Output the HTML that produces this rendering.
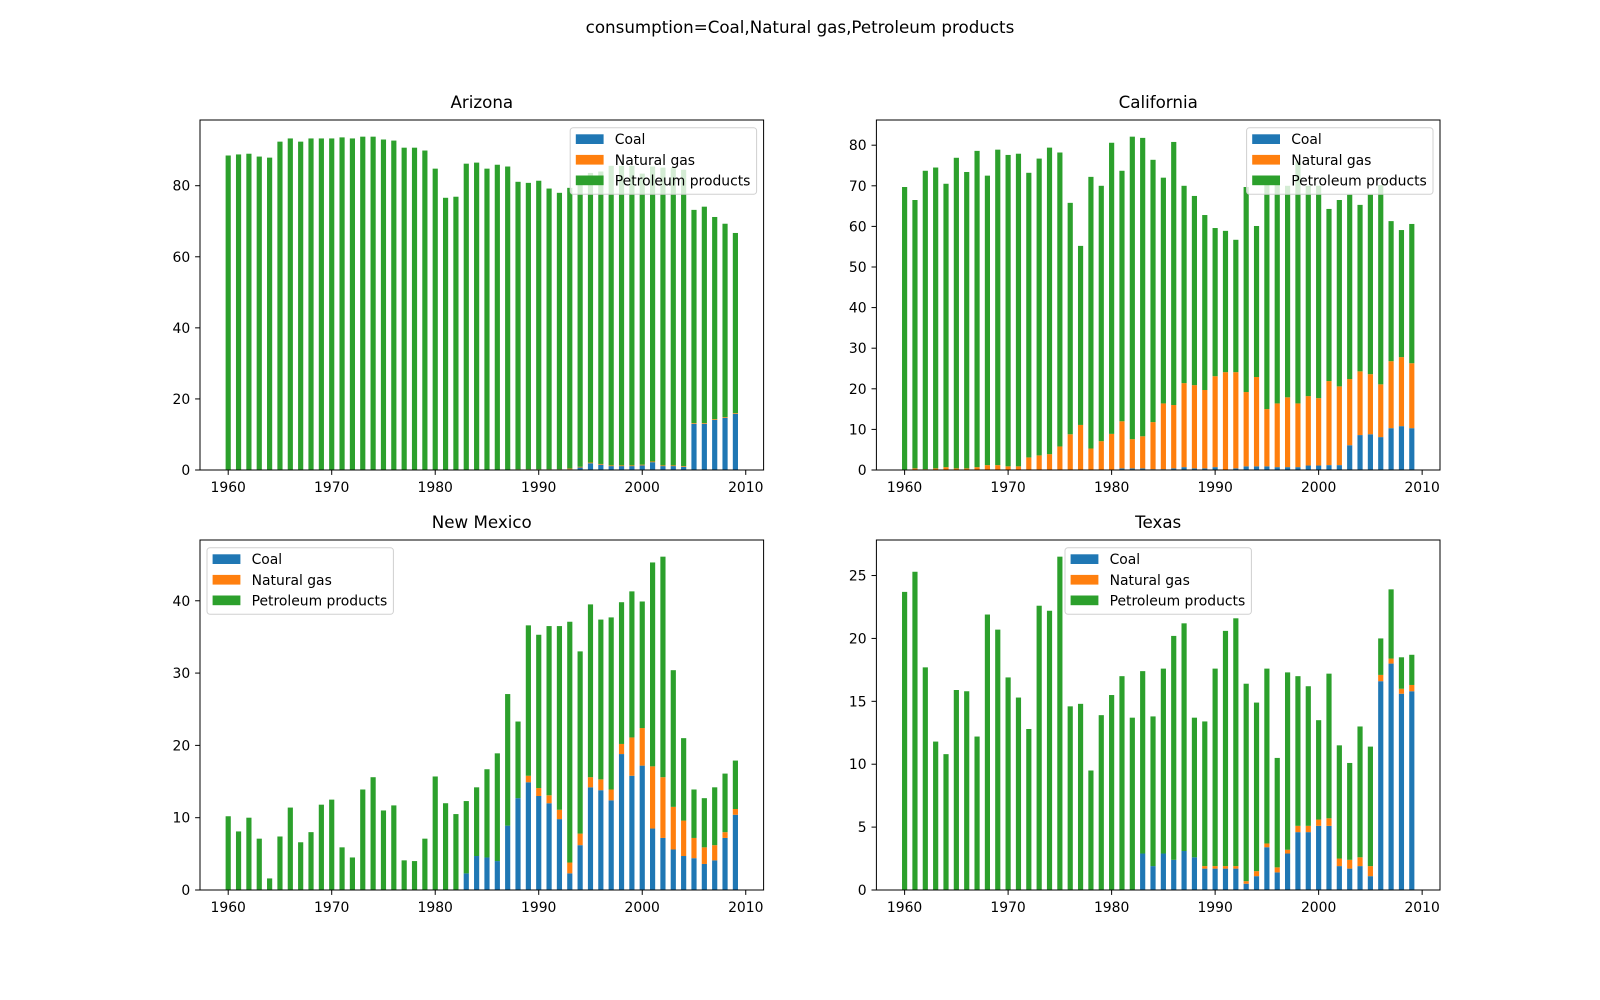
<!DOCTYPE html>
<html><head><meta charset="utf-8"><style>
html,body{margin:0;padding:0;background:#fff;}
svg{display:block;font-family:"DejaVu Sans","Liberation Sans",sans-serif;}
</style></head><body>
<svg id="fig" width="1600" height="1000" viewBox="0 0 1600 1000" xmlns="http://www.w3.org/2000/svg">
<rect width="1600" height="1000" fill="#fff"/>
<text x="800" y="33" font-size="16.7" text-anchor="middle">consumption=Coal,Natural gas,Petroleum products</text>
</svg>
<script>
const years = [1960,1961,1962,1963,1964,1965,1966,1967,1968,1969,1970,1971,1972,1973,1974,1975,1976,1977,1978,1979,1980,1981,1982,1983,1984,1985,1986,1987,1988,1989,1990,1991,1992,1993,1994,1995,1996,1997,1998,1999,2000,2001,2002,2003,2004,2005,2006,2007,2008,2009];
const seriesNames = ["Coal","Natural gas","Petroleum products"];
const xTicks = [1960,1970,1980,1990,2000,2010];

const azCoal = [0,0,0,0,0,0,0,0,0,0,0,0,0,0,0,0,0,0,0,0,0,0,0,0,0,0,0,0,0,0,0,0,0,0.2,0.7,1.9,1.5,1.1,1.1,1.1,1.3,2.2,1.1,1.1,0.9,13.0,13.0,14.1,14.7,15.8];
const azGas = [0,0,0,0,0,0,0,0,0,0,0,0,0,0,0,0,0,0,0,0,0,0,0,0,0,0,0,0,0.2,0.2,0.2,0.2,0.2,0.2,0.2,0.2,0.2,0.2,0.2,0.2,0.2,0.2,0.2,0.2,0.2,0.2,0.2,0.2,0.2,0.2];
const azPetro = [88.5,88.8,89.0,88.2,87.9,92.4,93.3,92.4,93.3,93.3,93.3,93.6,93.3,93.8,93.8,93.0,92.7,90.7,90.7,89.9,84.8,76.6,76.9,86.2,86.5,84.8,85.9,85.4,80.9,80.6,81.2,79.0,77.8,79.0,79.6,81.5,82.3,84.3,84.3,84.3,81.9,83.0,83.8,83.8,83.4,60.0,60.9,56.9,54.4,50.7];
const azTicks = [0,20,40,60,80];

const caCoal = [0,0,0,0,0,0,0,0,0,0,0,0,0,0,0,0,0,0,0,0,0.1,0.4,0.4,0.4,0.2,0.2,0.4,0.7,0.4,0.4,0.7,0.1,0.4,0.9,0.9,0.9,0.7,0.7,0.7,1.1,1.1,1.2,1.2,6.1,8.6,8.8,8.1,10.3,10.8,10.3];
const caGas = [0.1,0.4,0.2,0.4,0.7,0.4,0.4,0.7,1.2,1.2,0.9,0.9,3.1,3.6,3.9,5.8,8.8,11.1,5.3,7.1,8.8,11.6,7.2,7.9,11.6,16.2,15.6,20.7,20.5,19.3,22.4,24.0,23.7,18.3,22.0,14.1,15.7,17.2,15.7,17.1,16.6,20.7,19.4,16.3,15.7,14.8,13.0,16.5,17.0,16.0];
const caPetro = [69.6,66.1,73.5,74.1,69.8,76.5,73.0,77.9,71.3,77.7,76.7,77.0,70.1,73.1,75.5,72.4,57.0,44.1,66.9,62.9,71.7,61.7,74.5,73.5,64.6,55.6,64.8,48.6,46.6,43.1,36.5,34.8,32.6,50.5,37.2,56.0,55.6,52.1,59.6,51.8,52.3,42.4,45.9,45.4,41.0,44.2,49.1,34.5,31.3,34.3];
const caTicks = [0,10,20,30,40,50,60,70,80];

const nmCoal = [0,0,0,0,0,0,0,0,0,0,0,0,0,0,0,0,0,0,0,0,0,0,0,2.3,4.7,4.5,4.0,8.9,12.7,14.9,13.0,12.0,9.8,2.3,6.2,14.2,13.8,12.4,18.8,15.8,17.2,8.5,7.2,5.6,4.7,4.4,3.6,4.1,7.2,10.4];
const nmGas = [0,0,0,0,0,0,0,0,0,0,0,0,0,0,0,0,0,0,0,0,0,0,0,0,0,0,0,0,0,0.9,1.1,1.1,1.3,1.5,1.6,1.4,1.5,1.5,1.4,5.3,5.2,8.6,8.4,5.9,4.9,2.8,2.3,2.1,0.8,0.8];
const nmPetro = [10.2,8.1,10.0,7.1,1.6,7.4,11.4,6.6,8.0,11.8,12.5,5.9,4.5,13.9,15.6,11.0,11.7,4.1,4.0,7.1,15.7,12.0,10.5,10.0,9.5,12.2,14.9,18.2,10.6,20.8,21.2,23.4,25.4,33.3,25.2,23.9,22.1,23.8,19.6,20.2,17.5,28.2,30.5,18.9,11.4,6.7,6.8,8.0,8.1,6.7];
const nmTicks = [0,10,20,30,40];

const txCoal = [0,0,0,0,0,0,0,0,0,0,0,0,0,0,0,0,0,0,0,0,0,0,0,2.9,1.9,2.9,2.4,3.1,2.6,1.7,1.7,1.7,1.7,0.5,1.1,3.4,1.4,2.9,4.6,4.6,5.1,5.1,1.9,1.7,1.9,1.1,16.6,18.0,15.6,15.8];
const txGas = [0,0,0,0,0,0,0,0,0,0,0,0,0,0,0,0,0,0,0,0,0,0,0,0,0,0,0,0,0,0.2,0.2,0.2,0.2,0.2,0.4,0.3,0.4,0.3,0.5,0.5,0.5,0.6,0.6,0.7,0.7,0.8,0.5,0.4,0.4,0.5];
const txPetro = [23.7,25.3,17.7,11.8,10.8,15.9,15.8,12.2,21.9,20.7,16.9,15.3,12.8,22.6,22.2,26.5,14.6,14.8,9.5,13.9,15.5,17.0,13.7,14.5,11.9,14.7,17.8,18.1,11.1,11.5,15.7,18.7,19.7,15.7,13.4,13.9,8.7,14.1,11.9,11.1,7.9,11.5,9.0,7.7,10.4,9.5,2.9,5.5,2.5,2.4];
const txTicks = [0,5,10,15,20,25];

const COLORS = ["#1f77b4","#ff7f0e","#2ca02c"];
const NS = "http://www.w3.org/2000/svg";
const svg = document.getElementById("fig");
function mk(tag, attrs, parent){
  const e = document.createElementNS(NS, tag);
  for (const k in attrs) e.setAttribute(k, attrs[k]);
  (parent||svg).appendChild(e);
  return e;
}

function panel(key, title, x0, y0, coal, gas, petro, yTicks, legendPos){
  const W = 563.6, H = 350;
  const g = mk("g", {});
  
  
  const totals = years.map((y,i)=>coal[i]+gas[i]+petro[i]);
  const ymax = Math.max(...totals) * 1.05;
  const xmin = years[0] - 0.25 - (years[years.length-1]-years[0]+0.5)*0.05;
  const xmax = years[years.length-1] + 0.25 + (years[years.length-1]-years[0]+0.5)*0.05;
  const X = v => x0 + (v - xmin) / (xmax - xmin) * W;
  const Y = v => y0 + H - v / ymax * H;
  const bw = X(0.5) - X(0);
  const series = [coal, gas, petro];
  years.forEach((yr, i) => {
    let base = 0;
    series.forEach((s, k) => {
      const v = s[i];
      if (v > 0) {
        const r = mk("rect", {x: X(yr) - bw/2, y: Y(base + v), width: bw, height: Y(base) - Y(base + v), fill: COLORS[k]}, g);
        
        
      }
      base += v;
    });
  });
  const frame = mk("rect", {x: x0, y: y0, width: W, height: H, fill: "none", stroke: "#000", "stroke-width": 1}, g);
  
  
  xTicks.forEach(t => {
    const px = X(t);
    const tl = mk("line", {x1: px, x2: px, y1: y0+H, y2: y0+H+4.9, stroke: "#000", "stroke-width": 1}, g);
    
    
    const tx = mk("text", {x: px, y: y0+H+22, "font-size": 13.9, "text-anchor": "middle"}, g);
    tx.textContent = t;
    
    
  });
  yTicks.forEach(t => {
    const py = Y(t);
    const tl = mk("line", {x1: x0-4.9, x2: x0, y1: py, y2: py, stroke: "#000", "stroke-width": 1}, g);
    
    
    const tx = mk("text", {x: x0-9.8, y: py+5, "font-size": 13.9, "text-anchor": "end"}, g);
    tx.textContent = t;
    
    
  });
  const tt = mk("text", {x: x0 + W/2, y: y0 - 12, "font-size": 16.7, "text-anchor": "middle"}, g);
  tt.textContent = title;
  
  
  const lw = 186.4, lh = 66.6;
  let lx;
  if (legendPos === "right") lx = x0 + W - 7 - lw;
  else if (legendPos === "left") lx = x0 + 7;
  else lx = x0 + W/2 - lw/2;
  const ly = y0 + 7.7;
  const lg = mk("g", {}, g);
  
  
  mk("rect", {x: lx, y: ly, width: lw, height: lh, rx: 3, fill: "#fff", "fill-opacity": 0.8, stroke: "#d0d0d0", "stroke-width": 1}, lg);
  seriesNames.forEach((n, k) => {
    const cy = ly + 11.5 + k * 20.6;
    const e = mk("g", {}, lg);
    
    
    mk("rect", {x: lx + 5.6, y: cy - 4.9, width: 27.8, height: 9.7, fill: COLORS[k]}, e);
    const t = mk("text", {x: lx + 44.6, y: cy + 5, "font-size": 13.9}, e);
    t.textContent = n;
  });
}

panel("arizona", "Arizona", 200, 120, azCoal, azGas, azPetro, azTicks, "right");
panel("california", "California", 876.4, 120, caCoal, caGas, caPetro, caTicks, "right");
panel("new-mexico", "New Mexico", 200, 540, nmCoal, nmGas, nmPetro, nmTicks, "left");
panel("texas", "Texas", 876.4, 540, txCoal, txGas, txPetro, txTicks, "center");
</script>
</body></html>
